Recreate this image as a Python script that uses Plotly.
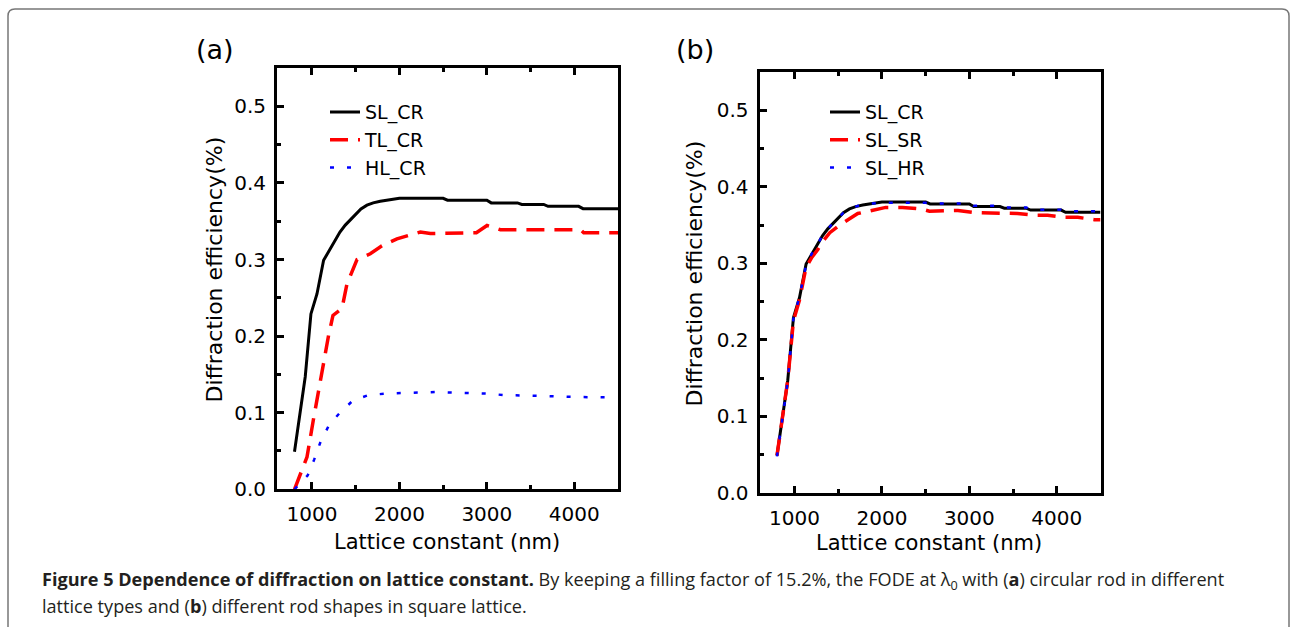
import plotly.graph_objects as go

# ---------------- data ----------------
# Panel (a): circular rod in different lattice types
a_sl_cr_x = [800, 855, 923, 988, 1057, 1133, 1200, 1267, 1320, 1381, 1440, 1503, 1560, 1629, 1700, 1781, 1900,
             2000, 2500, 2550, 3000, 3050, 3350, 3400, 3650, 3700, 4050, 4100, 4500]
a_sl_cr_y = [0.049, 0.092, 0.147, 0.229, 0.255, 0.299, 0.312, 0.326, 0.336, 0.345, 0.352, 0.360, 0.366, 0.371,
             0.374, 0.376, 0.378, 0.380, 0.380, 0.3775, 0.3775, 0.374, 0.374, 0.372, 0.372, 0.3695, 0.3695,
             0.3665, 0.3665]

a_tl_cr_x = [800, 870, 943, 1018, 1076, 1133, 1190, 1240, 1343, 1400, 1515, 1667, 1800, 1896, 1972, 2240, 2354,
             2880, 3002, 3155, 4070, 4108, 4500]
a_tl_cr_y = [0.0, 0.02, 0.042, 0.092, 0.129, 0.164, 0.201, 0.227, 0.236, 0.268, 0.300, 0.3075, 0.318, 0.323,
             0.327, 0.336, 0.334, 0.335, 0.3445, 0.339, 0.339, 0.335, 0.335]

a_hl_cr_x = [800, 870, 950, 1026, 1095, 1198, 1312, 1469, 1648, 1850, 2239, 2410, 3002, 3193, 3612, 4012, 4450]
a_hl_cr_y = [0.0, 0.008, 0.018, 0.039, 0.061, 0.0845, 0.099, 0.116, 0.123, 0.125, 0.127, 0.127, 0.125, 0.123,
             0.122, 0.1205, 0.120]

# Panel (b): different rod shapes in square lattice
b_sl_cr_x = a_sl_cr_x
b_sl_cr_y = a_sl_cr_y

b_sl_sr_x = [800, 855, 923, 988, 1057, 1133, 1200, 1267, 1320, 1404, 1518, 1724, 1838, 2044, 2234, 2448, 2543,
             2710, 2870, 3076, 3210, 3400, 3550, 3740, 3895, 4080, 4240, 4430, 4500]
b_sl_sr_y = [0.049, 0.092, 0.147, 0.225, 0.252, 0.295, 0.308, 0.318, 0.328, 0.340, 0.350, 0.365, 0.368, 0.373,
             0.373, 0.371, 0.368, 0.369, 0.369, 0.366, 0.366, 0.365, 0.365, 0.3627, 0.3627, 0.360, 0.360,
             0.357, 0.357]

b_sl_hr_x = [800, 855, 923, 988, 1057, 1133, 1200, 1267, 1320, 1381, 1440, 1503, 1560, 1629, 1700, 1781, 1900,
             2000, 2500, 2550, 3000, 3050, 3350, 3400, 3650, 3700, 4050, 4100, 4450]
b_sl_hr_y = [0.048, 0.092, 0.146, 0.228, 0.256, 0.298, 0.313, 0.325, 0.337, 0.344, 0.353, 0.359, 0.366, 0.370,
             0.374, 0.377, 0.378, 0.379, 0.379, 0.378, 0.378, 0.375, 0.375, 0.373, 0.373, 0.370, 0.370,
             0.368, 0.368]

x_ticks = [1000, 2000, 3000, 4000]
y_ticks = [0.0, 0.1, 0.2, 0.3, 0.4, 0.5]
x_title = "Lattice constant (nm)"
y_title = "Diffraction efficiency(%)"
panel_labels = ["(a)", "(b)"]
legend_a = ["SL_CR", "TL_CR", "HL_CR"]
legend_b = ["SL_CR", "SL_SR", "SL_HR"]

W = 1294
H_REF = 627      # reference picture height (layout targets measured in it)
H_FIG = 640      # figure height (the photographed page is fitted into 627 px)
FONT = "DejaVu Sans"

def px(x):
    return x / W

def py(y):
    return 1 - y / H_REF

fig = go.Figure()

RED_DASH = "18px,10px"
BLUE_DOT = "4px,13px"

fig.add_trace(go.Scatter(x=a_sl_cr_x, y=a_sl_cr_y, mode="lines", name=legend_a[0],
                         line=dict(color="#000000", width=3), xaxis="x", yaxis="y", legend="legend"))
fig.add_trace(go.Scatter(x=a_tl_cr_x, y=a_tl_cr_y, mode="lines", name=legend_a[1],
                         line=dict(color="#ff0000", width=3.5, dash=RED_DASH), xaxis="x", yaxis="y",
                         legend="legend"))
fig.add_trace(go.Scatter(x=a_hl_cr_x, y=a_hl_cr_y, mode="lines", name=legend_a[2],
                         line=dict(color="#0000ff", width=2.5, dash=BLUE_DOT), xaxis="x", yaxis="y",
                         legend="legend"))

fig.add_trace(go.Scatter(x=b_sl_cr_x, y=b_sl_cr_y, mode="lines", name=legend_b[0],
                         line=dict(color="#000000", width=3), xaxis="x2", yaxis="y2", legend="legend2"))
fig.add_trace(go.Scatter(x=b_sl_sr_x, y=b_sl_sr_y, mode="lines", name=legend_b[1],
                         line=dict(color="#ff0000", width=3.5, dash=RED_DASH), xaxis="x2", yaxis="y2",
                         legend="legend2"))
fig.add_trace(go.Scatter(x=b_sl_hr_x, y=b_sl_hr_y, mode="lines", name=legend_b[2],
                         line=dict(color="#0000ff", width=2.5, dash=BLUE_DOT), xaxis="x2", yaxis="y2",
                         legend="legend2"))

def xaxis_cfg(domain, anchor):
    return dict(domain=domain, anchor=anchor, range=[600, 4500], tickmode="array", tickvals=x_ticks,
                ticktext=[str(v) for v in x_ticks], ticks="inside", ticklen=7, tickwidth=3, tickcolor="black",
                showline=True, linewidth=3, linecolor="black", mirror="ticks", showgrid=False, zeroline=False,
                ticklabelstandoff=5, tickfont=dict(family=FONT, size=20, color="black"),
                minor=dict(tickvals=[1500, 2500, 3500], ticks="inside", ticklen=4, tickwidth=3,
                           tickcolor="black", showgrid=False))

def yaxis_cfg(domain, anchor):
    return dict(domain=domain, anchor=anchor, range=[0, 0.55], tickmode="array", tickvals=y_ticks,
                ticktext=["%.1f" % v for v in y_ticks], ticks="inside", ticklen=7, tickwidth=3,
                tickcolor="black", showline=True, linewidth=3, linecolor="black", mirror=True,
                showgrid=False, zeroline=False, ticklabelstandoff=4,
                tickfont=dict(family=FONT, size=20, color="black"),
                minor=dict(tickvals=[0.05, 0.15, 0.25, 0.35, 0.45], ticks="inside", ticklen=4, tickwidth=3,
                           tickcolor="black", showgrid=False))

a_left, a_right, a_top, a_bot = 277, 618, 68, 488.5
b_left, b_right, b_top, b_bot = 759.5, 1100.5, 71.7, 492.3

layout = dict(
    width=W, height=H_FIG, autosize=False,
    margin=dict(l=0, r=0, t=0, b=0),
    paper_bgcolor="white", plot_bgcolor="white",
    xaxis=xaxis_cfg([px(a_left), px(a_right)], "y"),
    yaxis=yaxis_cfg([py(a_bot), py(a_top)], "x"),
    xaxis2=xaxis_cfg([px(b_left), px(b_right)], "y2"),
    yaxis2=yaxis_cfg([py(b_bot), py(b_top)], "x2"),
    legend=dict(x=px(325), y=py(93), xanchor="left", yanchor="top", bgcolor="rgba(0,0,0,0)",
                borderwidth=0, font=dict(family=FONT, size=19, color="black")),
    legend2=dict(x=px(825), y=py(93), xanchor="left", yanchor="top", bgcolor="rgba(0,0,0,0)",
                 borderwidth=0, font=dict(family=FONT, size=19, color="black")),
    showlegend=True,
)
fig.update_layout(**layout)

ann = []
# axis titles
for cx, cy in [(446.5, 541), (929, 542)]:
    ann.append(dict(x=px(cx), y=py(cy), xref="paper", yref="paper", text=x_title, showarrow=False,
                    xanchor="center", yanchor="middle", font=dict(family=FONT, size=21, color="black")))
for cx, cy in [(214, 269), (694, 273)]:
    ann.append(dict(x=px(cx), y=py(cy), xref="paper", yref="paper", text=y_title, showarrow=False,
                    textangle=-90, xanchor="center", yanchor="middle",
                    font=dict(family=FONT, size=22, color="black")))
for lab, cx in zip(panel_labels, [215, 695]):
    ann.append(dict(x=px(cx), y=py(49), xref="paper", yref="paper", text=lab, showarrow=False,
                    xanchor="center", yanchor="middle", font=dict(family=FONT, size=27, color="black")))
# caption
cap1 = ("<b>Figure 5 Dependence of diffraction on lattice constant.</b> By keeping a filling factor of 15.2%, "
        "the FODE at λ<sub>0</sub> with (<b>a</b>) circular rod in different")
cap2 = "lattice types and (<b>b</b>) different rod shapes in square lattice."
ann.append(dict(x=px(40), y=py(580), xref="paper", yref="paper", text=cap1, showarrow=False,
                xanchor="left", yanchor="middle", font=dict(family="Open Sans", size=18.1, color="#231f20")))
ann.append(dict(x=px(40), y=py(605), xref="paper", yref="paper", text=cap2, showarrow=False,
                xanchor="left", yanchor="middle", font=dict(family="Open Sans", size=18.1, color="#231f20")))
fig.update_layout(annotations=ann)

# rounded frame around the figure (open at the bottom)
x0, x1, yt, yb, r = 8, 1289, 9, 660, 7
path = (f"M {px(x0)},{py(yb)} L {px(x0)},{py(yt + r)} Q {px(x0)},{py(yt)} {px(x0 + r)},{py(yt)} "
        f"L {px(x1 - r)},{py(yt)} Q {px(x1)},{py(yt)} {px(x1)},{py(yt + r)} L {px(x1)},{py(yb)}")
fig.add_shape(type="path", path=path, xref="paper", yref="paper", line=dict(color="#777777", width=1.5),
              layer="below")

fig.write_html("out.html")
